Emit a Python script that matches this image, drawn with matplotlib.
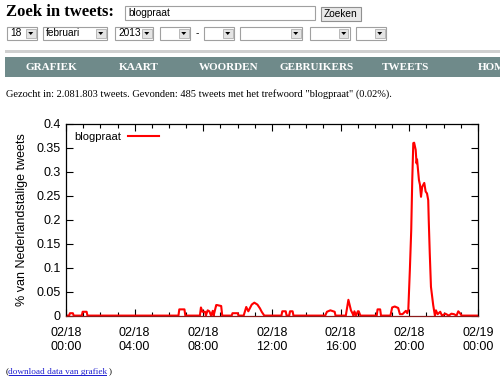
import matplotlib
matplotlib.use("Agg")
import matplotlib.pyplot as plt
from matplotlib.patches import Rectangle, Polygon
from matplotlib.ticker import MultipleLocator, FuncFormatter

# chart data: hour of 18 Feb 2013 vs. share of Dutch tweets (%)
hours = [0.0, 0.18, 0.23, 0.4, 0.45,
         0.92, 0.97, 1.2, 1.25,
         6.55, 6.6, 6.9, 6.95,
         7.8, 7.86, 7.95, 8.1, 8.15, 8.25, 8.35, 8.45, 8.55, 8.6, 8.75, 8.8, 9.04, 9.1,
         9.65, 9.7, 10.0, 10.05,
         10.35, 10.5, 10.62, 10.82, 10.97, 11.15, 11.3, 11.4, 11.55,
         12.55, 12.6, 12.8, 12.85,
         13.0, 13.05, 13.2, 13.25,
         15.1, 15.2, 15.4, 15.65, 15.7,
         16.3, 16.45, 16.6, 16.7, 16.75, 16.8, 16.9, 17.0, 17.05, 17.15,
         18.1, 18.15, 18.3, 18.35,
         18.9, 19.0, 19.15, 19.35, 19.45, 19.6, 19.8, 19.88,
         19.94, 20.03, 20.11, 20.17, 20.23, 20.28, 20.37, 20.42, 20.45, 20.56,
         20.62, 20.68, 20.75, 20.87, 20.95, 21.03, 21.1, 21.13, 21.19, 21.26,
         21.39, 21.49, 21.55, 21.65, 21.8, 21.9, 22.1, 22.3, 22.45, 22.6, 22.75,
         22.85, 22.95, 23.05, 24.0]
values = [0.0, 0.0, 0.005, 0.005, 0.0,
          0.0, 0.008, 0.008, 0.0,
          0.0, 0.013, 0.013, 0.0,
          0.0, 0.017, 0.008, 0.008, 0.0, 0.011, 0.009, 0.0, 0.01, 0.0, 0.022, 0.022, 0.02, 0.0,
          0.0, 0.005, 0.005, 0.0,
          0.0, 0.018, 0.009, 0.023, 0.027, 0.023, 0.015, 0.008, 0.0,
          0.0, 0.009, 0.009, 0.0,
          0.0, 0.009, 0.009, 0.0,
          0.0, 0.008, 0.011, 0.008, 0.0,
          0.0, 0.033, 0.011, 0.004, 0.0, 0.009, 0.0, 0.009, 0.009, 0.0,
          0.0, 0.013, 0.013, 0.0,
          0.0, 0.017, 0.019, 0.016, 0.003, 0.003, 0.01, 0.005,
          0.012, 0.095, 0.178, 0.283, 0.36, 0.361, 0.346, 0.318, 0.326, 0.283,
          0.273, 0.248, 0.269, 0.277, 0.259, 0.255, 0.241, 0.2, 0.13, 0.06,
          0.022, 0.0, 0.011, 0.003, 0.008, 0.0, 0.004, 0.0, 0.004, 0.003, 0.0,
          0.009, 0.005, 0.0, 0.0]
series_name = "blogpraat"
xtick_hours = [0, 4, 8, 12, 16, 20, 24]
xtick_labels = ["02/18\n00:00", "02/18\n04:00", "02/18\n08:00", "02/18\n12:00",
                "02/18\n16:00", "02/18\n20:00", "02/19\n00:00"]

# page texts
title_text = "Zoek in tweets:"
query_text = "blogpraat"
button_text = "Zoeken"
dropdowns = [(7, 37, "18"), (43, 107, "februari"), (115, 153, "2013"), (160, 190, ""),
             (204, 234, ""), (240, 302, ""), (310, 350, ""), (356, 386, "")]
nav_items = [(51, "GRAFIEK"), (139, "KAART"), (229, "WOORDEN"), (317, "GEBRUIKERS"),
             (405, "TWEETS"), (478, "HOM")]
summary_text = 'Gezocht in: 2.081.803 tweets. Gevonden: 485 tweets met het trefwoord "blogpraat" (0.02%).'
link_text = "download data van grafiek"

W, H = 500, 386
fig = plt.figure(figsize=(W / 100, H / 100), dpi=100)


def fx(x):
    return x / W


def fy(y):
    return 1 - y / H


def box(x0, y0, x1, y1, **kw):
    fig.add_artist(Rectangle((fx(x0), fy(y1)), fx(x1) - fx(x0), (y1 - y0) / H,
                             transform=fig.transFigure, **kw))


def text(x, y, s, **kw):
    return fig.text(fx(x), fy(y), s, **kw)


serif = "Liberation Serif"
sans = "Liberation Sans"

# header form
text(6, 12.5, title_text, fontsize=12, fontweight="bold", family=serif, va="center")
box(125, 6, 315, 20, facecolor="white", edgecolor="#a0a0a0", lw=0.8)
text(128, 13.5, query_text, fontsize=7.3, family=sans, va="center")
box(321, 7, 361, 20.5, facecolor="#e8e8e8", edgecolor="#909090", lw=0.8)
text(341, 14, button_text, fontsize=7.3, family=sans, va="center", ha="center")
for x0, x1, lab in dropdowns:
    box(x0, 27, x1, 39.5, facecolor="white", edgecolor="#a0a0a0", lw=0.8)
    box(x1 - 11, 28.5, x1 - 1.5, 38, facecolor="#e4e4e4", edgecolor="#b0b0b0", lw=0.6)
    cx = x1 - 6.25
    fig.add_artist(Polygon([(fx(cx - 2.5), fy(32)), (fx(cx + 2.5), fy(32)), (fx(cx), fy(35))],
                           closed=True, facecolor="black", transform=fig.transFigure))
    if lab:
        text(x0 + 3, 33.5, lab, fontsize=7.3, family=sans, va="center")
text(197, 33.5, "-", fontsize=7.3, family=sans, va="center", ha="center")

# separator + navigation bar
box(5, 50, 500, 53, facecolor="#d0d0d0", edgecolor="none")
box(5, 57, 500, 77, facecolor="#6f8a8a", edgecolor="none")
for cx, lab in nav_items:
    text(cx, 67, lab, fontsize=8, fontweight="bold", family=serif, color="white",
         va="center", ha="left" if lab == "HOM" else "center")

text(6, 94, summary_text, fontsize=7.5, family=serif, va="center")

text(5.5, 372, "(", fontsize=6.7, family=serif, va="center")
text(8.5, 372, link_text, fontsize=6.7, family=serif, va="center", color="#2020d0")
box(8.5, 375, 107, 375.6, facecolor="#2020d0", edgecolor="none")
text(109, 372, ")", fontsize=6.7, family=serif, va="center")

# chart
ax = fig.add_axes([fx(66), fy(315.6), (478 - 66) / W, (315.6 - 124) / H])
ax.plot(hours, values, color="#ff0000", lw=1.5, zorder=2, label=series_name)
ax.set_xlim(0, 24)
ax.set_ylim(0, 0.4)
ax.set_xticks(xtick_hours)
ax.set_xticklabels(xtick_labels, family=sans, fontsize=9, linespacing=1.3)
ax.xaxis.set_minor_locator(MultipleLocator(1))
ax.yaxis.set_major_locator(MultipleLocator(0.05))
ax.yaxis.set_major_formatter(FuncFormatter(lambda v, p: "%g" % round(v, 2)))
for lab in ax.get_yticklabels():
    lab.set_family(sans)
    lab.set_fontsize(9)
ax.tick_params(which="both", direction="in", top=True, right=True, width=0.8)
ax.tick_params(axis="x", which="major", length=5, pad=8)
ax.tick_params(axis="y", which="major", length=5, pad=4)
ax.tick_params(which="minor", length=3)
for sp in ax.spines.values():
    sp.set_linewidth(0.9)
ax.spines["bottom"].set_color("#8b1c1c")
ax.set_ylabel("% van Nederlandstalige tweets", family=sans, fontsize=9, labelpad=6)

leg = ax.legend(loc="upper left", frameon=False, markerfirst=False, handlelength=2.8,
                prop={"family": sans, "size": 8}, borderaxespad=0.35, handletextpad=0.6)

fig.savefig("out.png", dpi=100)
